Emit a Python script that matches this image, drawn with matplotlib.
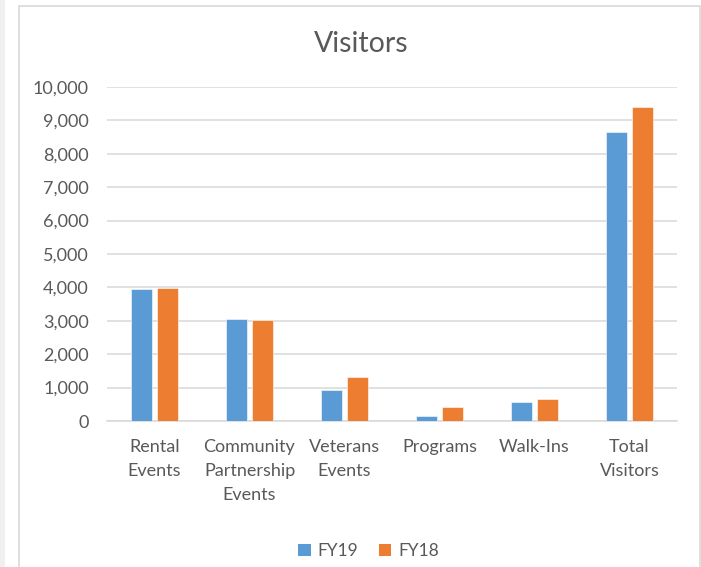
import numpy as np
import matplotlib
matplotlib.use("Agg")
import matplotlib.pyplot as plt
from matplotlib.patches import Rectangle, Patch
from matplotlib.ticker import FuncFormatter

# data
categories = ["Rental\nEvents", "Community\nPartnership\nEvents", "Veterans\nEvents",
              "Programs", "Walk-Ins", "Total\nVisitors"]
fy19 = [3950, 3060, 930, 150, 560, 8650]
fy18 = [3980, 3025, 1330, 420, 650, 9390]
series_names = ["FY19", "FY18"]

blue = "#5B9BD5"
orange = "#ED7D31"
grey_text = "#595959"
grid_col = "#D9D9D9"

plt.rcParams['font.family'] = ['Lato', 'DejaVu Sans']

fig = plt.figure(figsize=(7.01, 5.67), dpi=100)
fig.patch.set_facecolor("white")

# page strip on the left and the chart frame
fig.patches.append(Rectangle((0, 0), 5 / 701, 1, transform=fig.transFigure,
                             facecolor="#F0F0F0", edgecolor="none", zorder=0))
fig.patches.append(Rectangle((18.5 / 701, -0.01), (700 - 18.5) / 701, 1 - 5.5 / 567 + 0.01,
                             transform=fig.transFigure, facecolor="none",
                             edgecolor="#D9D9D9", linewidth=1.2, zorder=0))

ax = fig.add_axes([107 / 701, 1 - 421 / 567, 570 / 701, (421 - 87) / 567])

x = np.arange(len(categories))
w = 0.22
off = 0.1415
ax.bar(x - off, fy19, width=w, color=blue, edgecolor="white", linewidth=0.4, zorder=3)
ax.bar(x + off, fy18, width=w, color=orange, edgecolor="white", linewidth=0.4, zorder=3)

ax.set_xlim(-0.5, len(categories) - 0.5)
ax.set_ylim(0, 10000)
ax.set_yticks(np.arange(0, 10001, 1000))
ax.yaxis.set_major_formatter(FuncFormatter(lambda v, p: f"{int(v):,}"))
ax.set_xticks(x)
ax.set_xticklabels(categories, linespacing=1.6)

ax.grid(axis="y", color=grid_col, linewidth=1.1, zorder=0)
ax.set_axisbelow(True)
for s in ["top", "right", "left"]:
    ax.spines[s].set_visible(False)
ax.spines["bottom"].set_color(grid_col)
ax.spines["bottom"].set_linewidth(1.1)
ax.tick_params(axis="both", length=0, labelsize=13, colors=grey_text)
ax.tick_params(axis="y", pad=13)
ax.tick_params(axis="x", pad=13)

fig.text(0.515, 1 - 44 / 567, "Visitors", ha="center", va="center",
         fontsize=20.5, color=grey_text)

handles = [Patch(facecolor=blue), Patch(facecolor=orange)]
fig.legend(handles, series_names, loc="center", bbox_to_anchor=(0.526, 1 - 551 / 567),
           ncol=2, frameon=False, fontsize=12.5, labelcolor=grey_text,
           handlelength=0.7, handleheight=0.7, handletextpad=0.4, columnspacing=1.2)

fig.savefig("out.png", dpi=100)
